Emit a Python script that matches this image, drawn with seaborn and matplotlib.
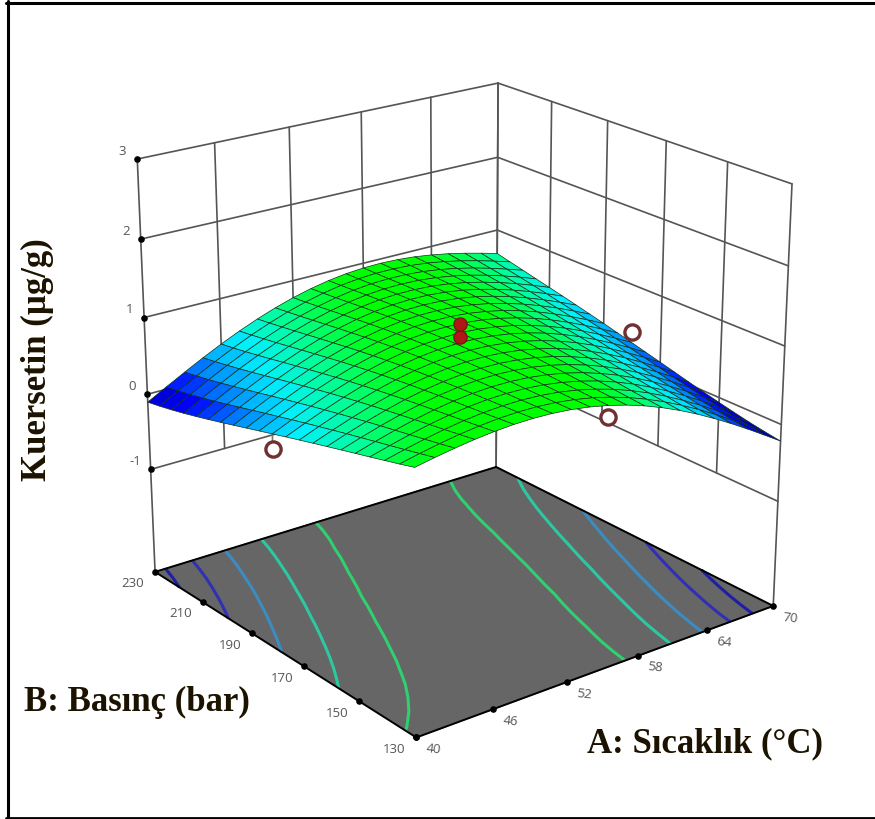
import matplotlib
matplotlib.use('Agg')
import matplotlib.pyplot as plt
from matplotlib.lines import Line2D
import numpy as np
import seaborn as sns
from mpl_toolkits.mplot3d import proj3d

# Response surface, rows go B = 130..230, columns A = 40..70
A_VALUES = [40 + 1.5 * i for i in range(21)]
B_VALUES = [130 + 5 * i for i in range(21)]
Z_ROWS = [
    [0.875, 0.919, 0.958, 0.991, 1.015, 1.030, 1.033, 1.024, 1.003, 0.967, 0.918, 0.855, 0.778, 0.688, 0.586, 0.473, 0.349, 0.217, 0.078, -0.067, -0.214],
    [0.822, 0.874, 0.920, 0.960, 0.990, 1.011, 1.020, 1.017, 1.000, 0.969, 0.925, 0.866, 0.793, 0.706, 0.607, 0.496, 0.375, 0.244, 0.106, -0.037, -0.183],
    [0.772, 0.830, 0.883, 0.929, 0.967, 0.993, 1.008, 1.010, 0.999, 0.973, 0.933, 0.878, 0.810, 0.727, 0.631, 0.523, 0.404, 0.276, 0.140, -0.002, -0.148],
    [0.722, 0.787, 0.847, 0.900, 0.943, 0.976, 0.997, 1.004, 0.998, 0.978, 0.942, 0.892, 0.828, 0.749, 0.657, 0.552, 0.436, 0.311, 0.177, 0.037, -0.107],
    [0.673, 0.745, 0.811, 0.870, 0.920, 0.959, 0.985, 0.999, 0.998, 0.982, 0.952, 0.907, 0.847, 0.772, 0.684, 0.583, 0.470, 0.347, 0.216, 0.079, -0.063],
    [0.624, 0.702, 0.775, 0.840, 0.896, 0.941, 0.973, 0.992, 0.997, 0.986, 0.961, 0.921, 0.865, 0.795, 0.711, 0.614, 0.505, 0.385, 0.257, 0.123, -0.017],
    [0.574, 0.659, 0.738, 0.809, 0.871, 0.921, 0.959, 0.984, 0.994, 0.989, 0.969, 0.934, 0.883, 0.817, 0.738, 0.645, 0.540, 0.424, 0.300, 0.168, 0.031],
    [0.524, 0.614, 0.699, 0.777, 0.844, 0.901, 0.944, 0.974, 0.990, 0.991, 0.976, 0.945, 0.899, 0.839, 0.763, 0.675, 0.574, 0.463, 0.342, 0.214, 0.081],
    [0.473, 0.569, 0.660, 0.743, 0.816, 0.878, 0.927, 0.963, 0.984, 0.990, 0.980, 0.955, 0.914, 0.858, 0.788, 0.704, 0.608, 0.500, 0.384, 0.260, 0.131],
    [0.422, 0.523, 0.619, 0.708, 0.786, 0.854, 0.908, 0.949, 0.976, 0.987, 0.983, 0.962, 0.927, 0.876, 0.811, 0.731, 0.640, 0.537, 0.425, 0.305, 0.180],
    [0.369, 0.476, 0.577, 0.671, 0.755, 0.827, 0.887, 0.934, 0.965, 0.982, 0.983, 0.968, 0.937, 0.891, 0.831, 0.757, 0.670, 0.573, 0.465, 0.350, 0.230],
    [0.317, 0.428, 0.534, 0.632, 0.721, 0.799, 0.864, 0.915, 0.952, 0.974, 0.980, 0.970, 0.945, 0.905, 0.849, 0.781, 0.699, 0.606, 0.504, 0.394, 0.278],
    [0.264, 0.380, 0.490, 0.593, 0.686, 0.769, 0.839, 0.895, 0.937, 0.964, 0.975, 0.971, 0.951, 0.915, 0.866, 0.802, 0.726, 0.638, 0.541, 0.436, 0.326],
    [0.211, 0.331, 0.445, 0.552, 0.650, 0.737, 0.812, 0.873, 0.920, 0.952, 0.968, 0.969, 0.954, 0.924, 0.879, 0.821, 0.750, 0.668, 0.577, 0.477, 0.372],
    [0.159, 0.282, 0.400, 0.511, 0.613, 0.704, 0.783, 0.849, 0.901, 0.937, 0.959, 0.964, 0.955, 0.930, 0.891, 0.838, 0.773, 0.696, 0.610, 0.516, 0.417],
    [0.108, 0.234, 0.355, 0.470, 0.576, 0.671, 0.754, 0.824, 0.880, 0.921, 0.947, 0.958, 0.954, 0.934, 0.901, 0.853, 0.794, 0.723, 0.643, 0.555, 0.461],
    [0.059, 0.187, 0.312, 0.429, 0.538, 0.637, 0.724, 0.798, 0.858, 0.904, 0.935, 0.951, 0.951, 0.937, 0.909, 0.867, 0.813, 0.748, 0.674, 0.592, 0.504],
    [0.012, 0.143, 0.269, 0.390, 0.501, 0.603, 0.694, 0.772, 0.836, 0.886, 0.922, 0.942, 0.948, 0.939, 0.916, 0.879, 0.831, 0.772, 0.704, 0.628, 0.546],
    [-0.031, 0.101, 0.229, 0.352, 0.466, 0.571, 0.665, 0.746, 0.814, 0.868, 0.908, 0.933, 0.943, 0.939, 0.922, 0.891, 0.848, 0.795, 0.733, 0.663, 0.589],
    [-0.070, 0.063, 0.193, 0.317, 0.433, 0.541, 0.637, 0.722, 0.793, 0.851, 0.895, 0.924, 0.939, 0.940, 0.928, 0.903, 0.866, 0.818, 0.762, 0.699, 0.631],
    [-0.104, 0.030, 0.160, 0.286, 0.404, 0.513, 0.612, 0.699, 0.774, 0.835, 0.883, 0.917, 0.936, 0.942, 0.934, 0.915, 0.883, 0.842, 0.792, 0.735, 0.674],
]

A_TICKS = [40, 46, 52, 58, 64, 70]
B_TICKS = [130, 150, 170, 190, 210, 230]
Z_TICKS = [-1, 0, 1, 2, 3]
FLOOR = -2.3976

# Contours on the floor
LEVELS = [-0.0279, 0.1641, 0.3840, 0.6004, 0.8360]
LEVEL_COLORS = ['#1f1fa6', '#3030b4', '#3b8cc0', '#2cc8a0', '#2ed070']

# Design points
OPEN_A = [40, 70, 55]
OPEN_B = [180, 180, 130]
OPEN_Z = [0.18, 0.37, 0.78]
CENTER_A = [55, 55]
CENTER_B = [180, 180]
CENTER_Z = [0.93, 1.10]

sns.set_theme(style='white')
fig = plt.figure(figsize=(8.75, 8.2), dpi=100)
ax = fig.add_axes([11.6344 / 875, 11.9306 / 820, 1, 1], projection='3d', computed_zorder=False)
ax.view_init(elev=21.5669, azim=-127.7303)
ax.set_proj_type('persp', focal_length=0.6475)
ax.set_box_aspect((1, 0.9994, 0.9892), zoom=0.9261)

X, Y = np.meshgrid(A_VALUES, B_VALUES)
Z = np.array(Z_ROWS)
cmap = sns.blend_palette(['#0000a0', '#0000ff', '#0090ff', '#00f0ff', '#00ff90', '#00ff00'], as_cmap=True)

ax.grid(False)
ax.set_xticks([])
ax.set_yticks([])
ax.set_zticks([])
for axis in (ax.xaxis, ax.yaxis, ax.zaxis):
    axis.line.set_color((0, 0, 0, 0))
    axis.pane.set_edgecolor((0, 0, 0, 0))
ax.xaxis.set_pane_color('white')
ax.yaxis.set_pane_color('white')
ax.zaxis.set_pane_color('#666666')

# Wall grid, the corner posts go down to the floor
wall = dict(color='#555555', lw=1.2, zorder=1)
for a in A_TICKS:
    low = FLOOR if a in (40, 70) else -1
    ax.plot([a, a], [230, 230], [low, 3], **wall)
for b in B_TICKS:
    low = FLOOR if b in (130, 230) else -1
    ax.plot([70, 70], [b, b], [low, 3], **wall)
for z in Z_TICKS:
    ax.plot([40, 70], [230, 230], [z, z], **wall)
    ax.plot([70, 70], [130, 230], [z, z], **wall)

ax.contour(X, Y, Z, levels=LEVELS, colors=LEVEL_COLORS, linewidths=2.2, offset=FLOOR, zdir='z', zorder=1.5)

floor = dict(color='black', lw=1.4, zorder=1.6)
ax.plot([40, 70], [130, 130], [FLOOR, FLOOR], **floor)
ax.plot([40, 40], [130, 230], [FLOOR, FLOOR], **floor)
ax.plot([40, 70], [230, 230], [FLOOR, FLOOR], **floor)
ax.plot([70, 70], [130, 230], [FLOOR, FLOOR], **floor)

dots = dict(color='black', s=14, depthshade=False, zorder=1.7)
ax.scatter(A_TICKS, [130] * 6, [FLOOR] * 6, **dots)
ax.scatter([40] * 6, B_TICKS, [FLOOR] * 6, **dots)
ax.scatter([40] * 5, [230] * 5, Z_TICKS, **dots)

# Drop line from the open point under the surface edge
ax.plot([40, 40], [180, 180], [OPEN_Z[0], Z[10, 0]], color='#777777', lw=1.2, zorder=1.9)

ax.plot_surface(X, Y, Z, rstride=1, cstride=1, cmap=cmap, vmin=-0.15, vmax=0.92,
                edgecolor='#103018', linewidth=0.5, shade=False, zorder=2)

ax.scatter(OPEN_A, OPEN_B, OPEN_Z, s=120, facecolor='white', edgecolor='#6e3030',
           linewidth=2.4, depthshade=False, zorder=3)
ax.scatter(CENTER_A, CENTER_B, CENTER_Z, s=90, color='#b01818', edgecolor='#7a1414',
           linewidth=1, depthshade=False, zorder=3)

ax.set_xlim(40, 70)
ax.set_ylim(130, 230)
ax.set_zlim(FLOOR, 3)


def tick_label(a, b, z, text, dx, dy, rotation=0):
    x2, y2, _ = proj3d.proj_transform(a, b, z, ax.get_proj())
    ax.annotate(text, (x2, y2), xytext=(dx * 0.72, -dy * 0.72), textcoords='offset points',
                fontsize=9.5, color='#555555', family='Open Sans', ha='center', va='center',
                rotation=rotation)


for a in A_TICKS:
    tick_label(a, 130, FLOOR, str(a), 17, 11, rotation=-6)
for b in B_TICKS:
    tick_label(40, b, FLOOR, str(b), -22, 11)
for z in Z_TICKS:
    tick_label(40, 230, z, str(z), -15, -9)

title_font = dict(family='Liberation Serif', fontweight='bold', fontsize=25, color='#1c1200',
                  ha='center', va='center')
fig.text(37 / 875, 1 - 360 / 820, 'Kuersetin (µg/g)', rotation=90, **title_font)
fig.text(137 / 875, 1 - 702 / 820, 'B: Basınç (bar)', **title_font)
fig.text(705 / 875, 1 - 744 / 820, 'A: Sıcaklık (°C)', **title_font)

# Frame round the picture, open on the right
fig.add_artist(Line2D([7.5 / 875, 7.5 / 875], [0, 1 - 2 / 820], color='black', lw=2.2))
fig.add_artist(Line2D([6 / 875, 1], [1 - 3.5 / 820, 1 - 3.5 / 820], color='black', lw=2.2))
fig.add_artist(Line2D([6 / 875, 1], [1 - 819 / 820, 1 - 819 / 820], color='black', lw=2))

fig.savefig('out.png', dpi=100)
